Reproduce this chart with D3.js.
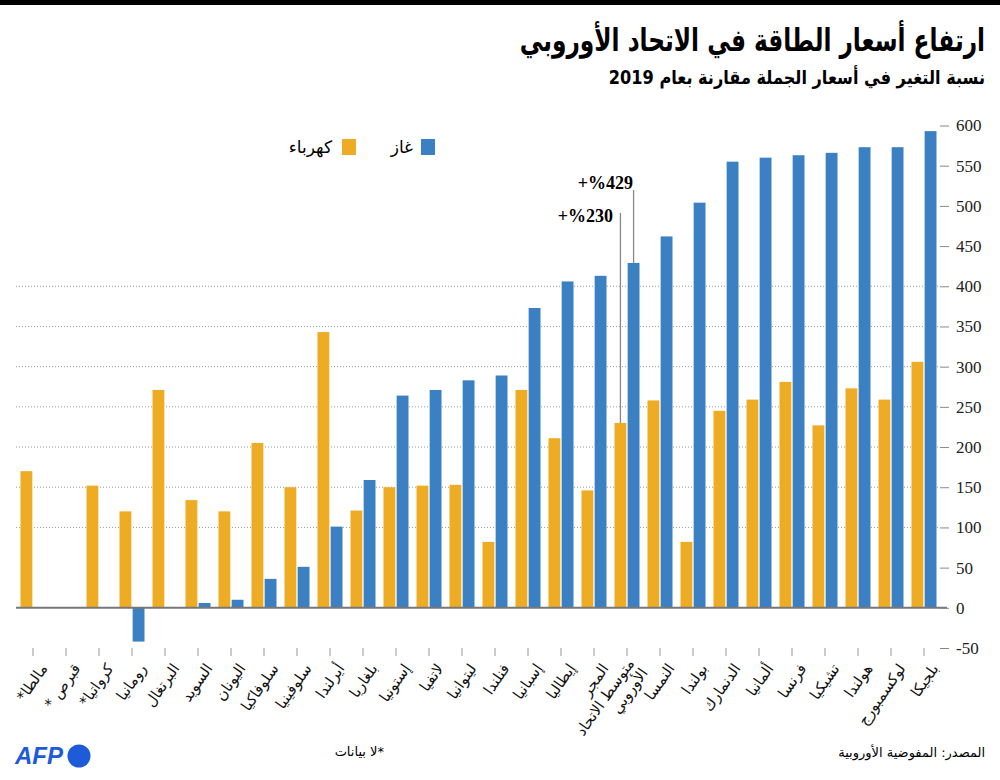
<!DOCTYPE html>
<html>
<head>
<meta charset="utf-8">
<script src="https://cdn.jsdelivr.net/npm/d3@7"></script>
<style>
  body { margin: 0; background: #fff; }
  svg { display: block; }
</style>
</head>
<body>
<div id="chart"></div>
<script>
const countries = ['مالطا*', 'قبرص *', 'كرواتيا*', 'رومانيا', 'البرتغال', 'السويد', 'اليونان',
  'سلوفاكيا', 'سلوفينيا', 'أيرلندا', 'بلغاريا', 'إستونيا', 'لاتفيا', 'ليتوانيا', 'فنلندا',
  'إسبانيا', 'إيطاليا', 'المجر', 'متوسط الاتحاد الأوروبي', 'النمسا', 'بولندا', 'الدنمارك',
  'ألمانيا', 'فرنسا', 'تشيكيا', 'هولندا', 'لوكسمبورج', 'بلجيكا']
const electricity = [170, null, 152, 120, 271, 134, 120, 205, 150, 343, 121, 150, 152, 153, 82,
  271, 211, 146, 230, 258, 82, 245, 259, 281, 227, 273, 259, 306]
const gas = [null, null, null, -42, null, 6, 10, 36, 51, 101, 159, 264, 271, 283, 289,
  373, 406, 413, 429, 462, 504, 555, 560, 563, 566, 573, 573, 593]
const seriesKeys = ['electricity', 'gas']
const seriesNames = ['كهرباء', 'غاز']
const yTicks = [-50, 0, 50, 100, 150, 200, 250, 300, 350, 400, 450, 500, 550, 600]
const gridValues = [100, 150, 200, 250, 300, 350, 400]
const highlight = 'متوسط الاتحاد الأوروبي'

const colors = {electricity: '#eeac25', gas: '#3a80c3'}
const width = 1000
const height = 780
const arabic = "'DejaVu Sans', sans-serif"
const serif = "'Liberation Serif', 'DejaVu Serif', serif"
const rlm = '\u200F'

const svg = d3.select('#chart').append('svg')
  .attr('width', width)
  .attr('height', height)

const x = d3.scaleBand().domain(countries).range([16.5, 940.5])
const x1 = d3.scaleBand().domain(seriesKeys).range([4, 29]).paddingInner(0.1)
const y = d3.scaleLinear().domain([-50, 600]).range([648, 125.5])

const rows = countries.map((c, i) => ({c: c, electricity: electricity[i], gas: gas[i]}))

// top rule
svg.append('rect').attr('x', 0).attr('y', 0).attr('width', width).attr('height', 5).attr('fill', '#000')

// title + subtitle, DejaVu arabic runs wide so it gets squeezed horizontally
svg.append('text')
  .attr('transform', 'translate(985,51) scale(0.75,1)')
  .attr('text-anchor', 'end')
  .style('font-family', arabic).style('font-weight', 'bold').style('font-size', '31px')
  .text('ارتفاع أسعار الطاقة في الاتحاد الأوروبي')
svg.append('text')
  .attr('transform', 'translate(985,84) scale(0.85,1)')
  .attr('text-anchor', 'end')
  .style('font-family', arabic).style('font-weight', 'bold').style('font-size', '19px')
  .text('نسبة التغير في أسعار الجملة مقارنة بعام 2019')

// grid
svg.append('g').selectAll('line')
  .data(gridValues)
  .enter()
    .append('line')
    .attr('x1', 16).attr('x2', 940)
    .attr('y1', d => y(d)).attr('y2', d => y(d))
    .attr('stroke', '#9a9a9a')
    .attr('stroke-dasharray', '1,2')

// bars
seriesKeys.forEach(k => {
  svg.append('g').selectAll('rect')
    .data(rows.filter(d => d[k] != null))
    .enter()
      .append('rect')
      .attr('x', d => x(d.c) + x1(k))
      .attr('width', x1.bandwidth())
      .attr('y', d => y(Math.max(0, d[k])))
      .attr('height', d => Math.abs(y(d[k]) - y(0)))
      .attr('fill', colors[k])
})

// zero line
svg.append('line')
  .attr('x1', 16).attr('x2', 947)
  .attr('y1', y(0)).attr('y2', y(0))
  .attr('stroke', '#777').attr('stroke-width', 2)

// y axis on the right
const yAxis = svg.append('g')
  .attr('transform', 'translate(940,0)')
  .call(d3.axisRight(y).tickValues(yTicks).tickSize(9).tickPadding(7).tickFormat(d => String(d)))
yAxis.select('.domain').remove()
yAxis.selectAll('line').attr('stroke', '#888')
yAxis.selectAll('text')
  .attr('fill', '#222')
  .style('font-family', serif).style('font-size', '17px')

// x ticks at the -50 level
const xAxis = svg.append('g')
  .attr('transform', `translate(0,${y(-50)})`)
  .call(d3.axisBottom(x).tickSize(8).tickFormat(''))
xAxis.select('.domain').remove()
xAxis.selectAll('line').attr('stroke', '#999')

// rotated country labels
const labels = svg.append('g').selectAll('text')
  .data(countries)
  .enter()
    .append('text')
    .attr('transform', d => `translate(${x(d) + x.bandwidth() / 2 + 6},662) rotate(-55)`)
    .attr('text-anchor', 'end')
    .style('font-family', arabic).style('font-size', '15px')
    .attr('fill', '#111')
labels.each(function(d) {
  const words = d.split(' ')
  const lines = words.length > 2 ? [words.slice(0, 2).join(' '), words.slice(2).join(' ')] : [d]
  d3.select(this).selectAll('tspan')
    .data(lines)
    .enter()
      .append('tspan')
      .attr('x', 0)
      .attr('dy', (l, i) => i > 0 ? '1.1em' : (lines.length > 1 ? '0.15em' : '0.75em'))
      .text(l => l + rlm)
})

// callouts on the EU average: number and "+%" drawn separately so bidi can't reorder them
const hi = countries.indexOf(highlight)
const callouts = [
  {k: 'gas', v: gas[hi], top: 190, tx: 633, ty: 189},
  {k: 'electricity', v: electricity[hi], top: 213, tx: 613, ty: 222}
]
callouts.forEach(c => {
  const cx = x(highlight) + x1(c.k) + x1.bandwidth() / 2
  svg.append('line')
    .attr('x1', cx).attr('x2', cx)
    .attr('y1', c.top).attr('y2', y(c.v))
    .attr('stroke', '#888').attr('stroke-width', 1.3)
  const num = svg.append('text')
    .attr('x', c.tx).attr('y', c.ty)
    .attr('text-anchor', 'end')
    .style('font-family', serif).style('font-weight', 'bold').style('font-size', '18px')
    .text(String(c.v))
  const w = num.node().getComputedTextLength()
  svg.append('text')
    .attr('x', c.tx - w).attr('y', c.ty)
    .attr('text-anchor', 'end')
    .style('font-family', serif).style('font-weight', 'bold').style('font-size', '18px')
    .text('+%')
})

// legend
const legendPos = [{x: 342, tx: 332}, {x: 421, tx: 413}]
seriesKeys.forEach((k, i) => {
  svg.append('rect')
    .attr('x', legendPos[i].x).attr('y', 139)
    .attr('width', 14).attr('height', 16)
    .attr('fill', colors[k])
  svg.append('text')
    .attr('x', legendPos[i].tx).attr('y', 153)
    .attr('text-anchor', 'end')
    .style('font-family', arabic).style('font-size', '17px')
    .text(seriesNames[i])
})

// footer
svg.append('text')
  .attr('x', 985).attr('y', 757)
  .attr('text-anchor', 'end')
  .style('font-family', arabic).style('font-size', '13px')
  .text('المصدر: المفوضية الأوروبية')
svg.append('text')
  .attr('x', 384).attr('y', 756)
  .attr('text-anchor', 'end')
  .style('font-family', arabic).style('font-size', '13px')
  .text(rlm + '*لا بيانات')

const logo = svg.append('g')
logo.append('text')
  .attr('x', 15).attr('y', 764)
  .attr('fill', '#1d5bd8')
  .style('font-family', "'Liberation Sans', Arial, sans-serif")
  .style('font-weight', 'bold').style('font-style', 'italic').style('font-size', '24px')
  .text('AFP')
logo.append('circle')
  .attr('cx', 79).attr('cy', 756).attr('r', 11.5)
  .attr('fill', '#1d5bd8')
</script>
</body>
</html>
